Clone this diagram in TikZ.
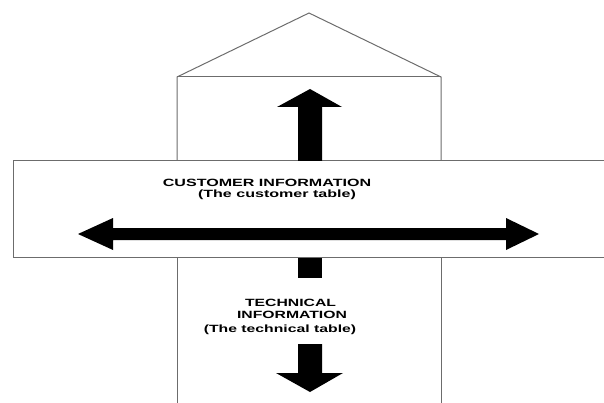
\documentclass[tikz,border=0pt]{standalone}
\usepackage{fontspec}
\usepackage{graphicx}
\setmainfont{Liberation Sans}
\begin{document}
\begin{tikzpicture}[x=1pt,y=-1pt,
  outline/.style={draw=gray!85!black,line width=1pt,line join=miter},
  blockarrow/.style={fill=black,draw=none},
  lbl/.style={anchor=base,inner sep=0pt,font=\fontsize{10.5}{13}\selectfont\bfseries}]
\useasboundingbox (0,0) rectangle (604,403);
\begin{scope}
\clip (0,0) rectangle (604,403);
% house (roof + upper box)
\draw[outline] (177,160) -- (177,77) -- (309,13) -- (441,77) -- (441,160);
\draw[outline] (177,77) -- (441,77);
% horizontal band
\draw[outline] (610,161) -- (13,161) -- (13,257) -- (610,257);
% lower box
\draw[outline] (177,257) -- (177,410);
\draw[outline] (441,257) -- (441,410);
% up arrow
\fill[blockarrow] (298,161) -- (298,107) -- (277,107) -- (310,89) -- (342,107) -- (322,107) -- (322,161) -- cycle;
% stub below band
\fill[blockarrow] (298,258) rectangle (322,278);
% down arrow
\fill[blockarrow] (298,344) -- (322,344) -- (322,373) -- (343,373) -- (310,392) -- (276,373) -- (298,373) -- cycle;
% double horizontal arrow
\fill[blockarrow] (78,234) -- (113,218) -- (113,228) -- (506,228) -- (506,218) -- (539,234) -- (506,250) -- (506,240) -- (113,240) -- (113,250) -- cycle;
\end{scope}
% labels
\node[lbl] (cust1) at (267,187) {\scalebox{1.53}[1]{CUSTOMER INFORMATION}};
\node[lbl] (cust2) at (277,198) {\scalebox{1.53}[1]{(The customer table)}};
\node[lbl] (tech1) at (290.5,306) {\scalebox{1.5}[1]{TECHNICAL}};
\node[lbl] (tech2) at (292,318.5) {\scalebox{1.5}[1]{INFORMATION}};
\node[lbl] (tech3) at (280,332) {\scalebox{1.5}[1]{(The technical table)}};
\end{tikzpicture}
\end{document}
